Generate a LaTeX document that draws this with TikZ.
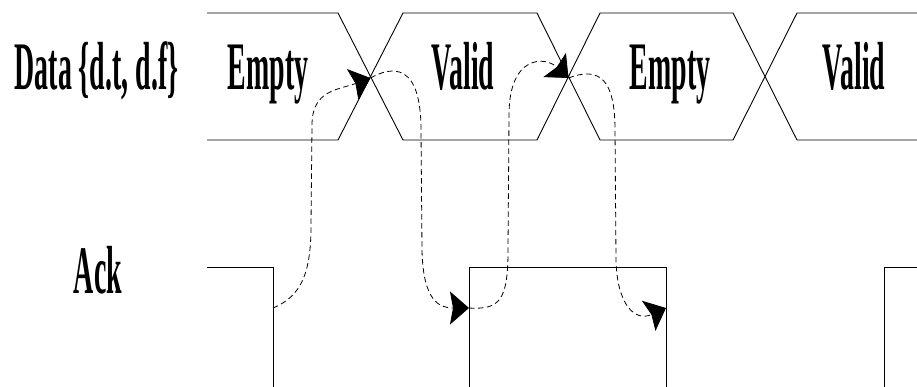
\documentclass[tikz,border=0pt]{standalone}
\usepackage{fontspec}
\setmainfont{Liberation Serif}
\usetikzlibrary{arrows.meta}
\begin{document}
\begin{tikzpicture}[x=1pt,y=-1pt,
  wave/.style={line width=0.9pt,line join=miter},
  sig/.style={font=\fontsize{68}{68}\selectfont\bfseries,xscale=0.41,inner sep=0pt,anchor=base},
  handshake/.style={line width=0.8pt,dash pattern=on 5.5pt off 3.5pt,
    -{Stealth[length=19pt,width=33pt,inset=3pt]}}]
\useasboundingbox (0,0) rectangle (917,387);

% signal names
\node[sig] (data) at (96.5,90) {Data \{d.t, d.f\}};
\node[sig] (ack) at (98,293) {Ack};

% data phases
\node[sig] (e1) at (268,90) {Empty};
\node[sig] (v1) at (463,90) {Valid};
\node[sig] (e2) at (670,90) {Empty};
\node[sig] (v2) at (854,90) {Valid};

% dual-rail data bus with transitions
\draw[wave] (207,13) -- (338,13) -- (403,140) -- (537,140) -- (600,13) -- (733,13) -- (797,140) -- (917,140);
\draw[wave] (207,140) -- (338,140) -- (403,13) -- (537,13) -- (600,140) -- (733,140) -- (797,13) -- (917,13);

% acknowledge waveform
\draw[wave] (207,267) -- (273,267) -- (273,387);
\draw[wave] (469,387) -- (469,267) -- (666,267) -- (666,387);
\draw[wave] (884,387) -- (884,267) -- (917,267);

% transition points
\coordinate (x1) at (370.5,78);
\coordinate (x2) at (568.5,78);
\coordinate (ackfall) at (273,308);
\coordinate (ackrise) at (469,308);
\coordinate (ackfall2) at (666,308);

% causality arcs
\draw[handshake] (ackfall) .. controls (302,296) and (311,272) .. (311,225)
  -- (312,125) .. controls (312,90) and (338,90) .. (x1);
\draw[handshake] (x1) .. controls (392,66) and (421,62) .. (421,130)
  -- (422,250) .. controls (423,302) and (440,308) .. (ackrise);
\draw[handshake] (ackrise) .. controls (500,310) and (508,300) .. (508,250)
  -- (509,115) .. controls (509,55) and (545,56) .. (x2);
\draw[handshake] (x2) .. controls (600,66) and (615,80) .. (615,130)
  -- (616,260) .. controls (617,305) and (635,322) .. (ackfall2);
\end{tikzpicture}
\end{document}
